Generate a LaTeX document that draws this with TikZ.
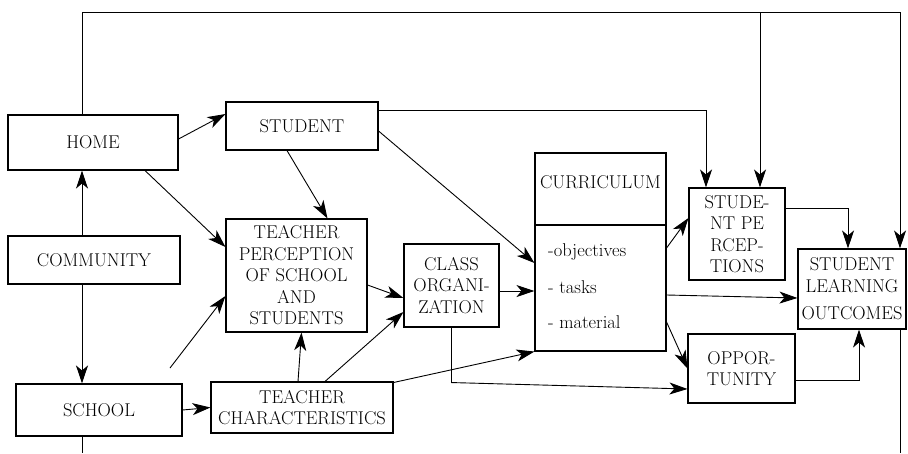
\documentclass[tikz,border=0pt]{standalone}
\usetikzlibrary{arrows.meta,positioning}

\begin{document}
\begin{tikzpicture}[x=1pt,y=-1pt,
  every node/.style={inner sep=0pt,align=center,font=\fontsize{18.5}{21.5}\selectfont},
  box/.style={draw,line width=1.1pt},
  arr/.style={-{Stealth[length=18pt,width=12pt,inset=5pt]},line width=.9pt},
  lin/.style={line width=.9pt}]

 \useasboundingbox (0,0) rectangle (908,453);

 \node[box,minimum width=170pt,minimum height=55pt] (HOME) at (93,142.5) {HOME};
 \node[box,minimum width=152pt,minimum height=48pt] (STU) at (302,126) {STUDENT};
 \node[box,minimum width=172pt,minimum height=48pt] (COM) at (94,260) {COMMUNITY};
 \node[box,minimum width=166pt,minimum height=52pt] (SCH) at (99,410) {SCHOOL};
 \node[box,minimum width=141pt,minimum height=113pt] (TP) at (296.5,275.5)
   {TEACHER\\PERCEPTION\\OF SCHOOL\\AND\\STUDENTS};
 \node[box,minimum width=182pt,minimum height=51pt] (TC) at (302,407.5)
   {TEACHER\\CHARACTERISTICS};
 \node[box,minimum width=95pt,minimum height=83pt] (CO) at (451.5,285.5)
   {CLASS\\ORGANI-\\ZATION};
 \node[box,minimum width=131pt,minimum height=198pt] (CUR) at (600.5,252) {};
 \node (curt) at (600.5,182) {CURRICULUM};
 \node[anchor=west] (cobj) at (548,252) {-objectives};
 \node[anchor=west] (ctask) at (548,287) {- tasks};
 \node[anchor=west] (cmat) at (548,322) {- material};
 \node[box,minimum width=96pt,minimum height=92pt] (SP) at (737,234)
   {STUDE-\\NT PE\\RCEP-\\TIONS};
 \node[box,minimum width=108pt,minimum height=80pt] (SLO) at (852,289)
   {STUDENT\\LEARNING\\[6pt]OUTCOMES};
 \node[box,minimum width=107pt,minimum height=69pt] (OPP) at (741.5,368.5)
   {OPPOR-\\TUNITY};

 \coordinate (spine) at (82,0);
 \coordinate (rspine) at (900,12);
 \coordinate (sfree) at (170,368);

 % curriculum divider
 \draw[box] (CUR.west |- 0,225) -- (CUR.east |- 0,225);

 % outer loop
 \draw[arr] (HOME.north -| spine) |- (rspine) -- (SLO.north -| rspine);
 \draw[arr] ([xshift=23pt]SP.north |- rspine) -- ([xshift=23pt]SP.north);
 \draw[lin] (SCH.south -| spine) -- (82,453);
 \draw[lin] (SLO.south -| rspine) -- (900,453);

 % left column
 \draw[arr] (COM.north -| spine) -- (HOME.south -| spine);
 \draw[arr] (COM.south -| spine) -- (SCH.north -| spine);
 \draw[arr] (SCH.east) -- (TC.west);

 \draw[arr] ([yshift=3.5pt]HOME.east) -- ([yshift=12pt]STU.west);
 \draw[arr] ([xshift=52pt]HOME.south) -- ([yshift=28.5pt]TP.west);
 \draw[arr] ([xshift=-15pt]STU.south) -- ([xshift=31pt]TP.north);
 \draw[arr] ([yshift=-5pt]STU.east) -- ([yshift=-11pt]CUR.west);
 \draw[arr] ([yshift=16pt]STU.east) -| ([xshift=-31pt]SP.north);
 \draw[arr] (sfree) -- ([yshift=-20.5pt]TP.west);
 \draw[arr] ([xshift=-4pt]TC.north) -- ([xshift=5pt]TP.south);
 \draw[arr] ([xshift=23pt]TC.north) -- ([yshift=-26.5pt]CO.west);
 \draw[arr] ([yshift=-9.5pt]TP.east) -- ([yshift=-12.5pt]CO.west);
 \draw[arr] ([yshift=-5.5pt]CO.east) -- ([yshift=-39pt]CUR.west);
 \draw[arr] ([yshift=25pt]TC.east) -- (CUR.south west);
 \draw[arr] (CO.south) -- ++(0,55) -- ([yshift=-20.5pt]OPP.west);

 % right part
 \draw[arr] ([yshift=4pt]CUR.east) -- ([yshift=16pt]SP.west);
 \draw[arr] ([yshift=-43pt]CUR.east) -- ([yshift=-9pt]SLO.west);
 \draw[arr] ([yshift=-70pt]CUR.east) -- (OPP.west);
 \draw[arr] ([yshift=26pt]SP.east) -| ([xshift=-4pt]SLO.north);
 \draw[arr] ([yshift=-11.5pt]OPP.east) -| ([xshift=7pt]SLO.south);
\end{tikzpicture}
\end{document}
